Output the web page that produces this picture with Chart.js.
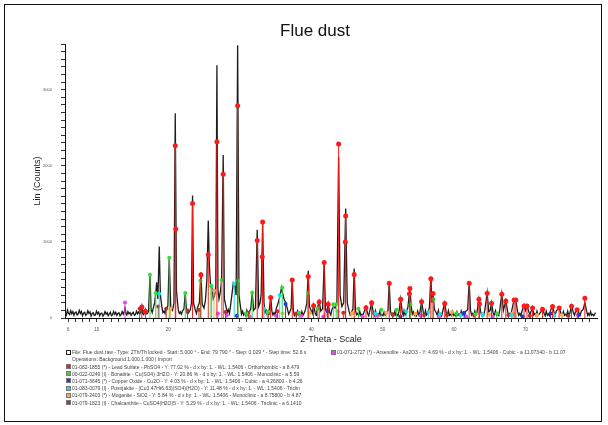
<!DOCTYPE html>
<html>
<head>
<meta charset="utf-8">
<script src="https://cdn.jsdelivr.net/npm/chart.js@4.4.1/dist/chart.umd.min.js"></script>
<style>
  body { margin: 0; background: #fff; }
  #wrap { position: relative; width: 608px; height: 425px; overflow: hidden; font-family: "Liberation Sans", Arial, sans-serif; }
  #frame { position: absolute; left: 4px; top: 4px; width: 596px; height: 416px; border: 1px solid #111; pointer-events: none; }
  #title { position: absolute; left: 0; width: 630px; top: 21px; line-height: 20px; text-align: center; font-size: 17px; color: #111; }
  .row { position: absolute; font-size: 5px; line-height: 6px; color: #444; white-space: nowrap; overflow: hidden; }
  .icon { position: absolute; width: 5px; height: 5px; box-sizing: border-box; border: 1px solid #777; }
</style>
</head>
<body>
<div id="wrap">
  <canvas id="xrd" width="608" height="425"></canvas>
  <div id="title">Flue dust</div>
  <div id="legend"></div>
  <div id="frame"></div>
</div>
<script>
// axis ranges and labels
const xMin = 5.55, xMax = 80, yMax = 3600;
const xLabels = [6, 10, 20, 30, 40, 50, 60, 70];
const yLabels = [0, 1000, 2000, 3000];

const scanLow = [
  [5.6,70],[5.75,40],[5.9,105],[6.05,60],[6.2,45],[6.35,95],[6.5,55],[6.65,85],[6.8,35],[6.95,70],
  [7.1,80],[7.25,40],[7.4,55],[7.55,100],[7.7,60],[7.85,85],[8.0,30],[8.15,65],[8.3,75],[8.45,35],
  [8.6,50],[8.75,95],[8.9,60],[9.05,80],[9.2,25],[9.35,60],[9.5,70],[9.65,35],[9.8,40],[9.95,90],
  [10.1,55],[10.25,75],[10.4,30],[10.55,60],[10.7,65],[10.85,25],[11.0,45],[11.15,85],[11.3,50],[11.45,70],
  [11.6,30],[11.75,55],[11.9,75],[12.05,30],[12.2,40],[12.35,85],[12.5,50],[12.65,75],[12.8,35],[12.95,60],
  [13.1,70],[13.25,30],[13.4,45],[13.55,85],[13.7,50],[13.82,80],[13.94,150],[14.06,60],[14.2,40],[14.35,85],
  [14.5,55],[14.65,70],[14.8,35],[14.95,60],[15.1,75],[15.25,35],[15.4,45],[15.55,90],[15.7,55],[15.85,80],
  [16.0,55],[16.15,70],[16.3,150],[16.42,60],[16.55,45],[16.68,70],[16.8,110],[16.95,55],[17.1,60],
  [17.25,95],[17.44,560],[17.6,110],[17.75,70],[17.9,130],[18.1,200],[18.25,330],[18.38,470],[18.55,250],[18.74,940],[18.9,300],
  [19.1,150],[19.25,70],[19.4,90],[19.55,60],[19.7,120],[19.95,160],[20.14,790],[20.35,130],[20.6,100],[20.8,200],[20.98,2690],[21.15,350],
  [21.4,110],[21.55,60],[21.7,80],[21.85,50],[22.0,95],[22.2,120],[22.38,330],[22.55,90],[22.7,50],[22.85,70],[23.1,110],[23.25,200],[23.4,1610],
  [23.55,190],[23.8,100],[23.95,60],[24.1,140],[24.35,200],[24.57,600],[24.75,180],[25.0,130],[25.2,230],[25.4,500],[25.6,1280],
  [25.75,700],[25.9,450],[26.1,430],[26.3,250],[26.5,300],[26.65,420],[26.81,3320],[26.95,380],[27.1,250],[27.3,350],
  [27.47,500],[27.69,2140],[27.85,250],[28.1,140],[28.25,70],[28.4,110],[28.55,60],[28.7,150],[28.9,300],[29.1,460],[29.3,420],[29.5,300],
  [29.71,3585],[29.9,300],[30.1,150]
];
const scanMid = [
  [30.25,50],[30.4,90],[30.55,40],[30.7,60],[30.85,30],[31.0,100],[31.15,45],[31.3,70],[31.55,120],[31.75,335],[31.95,100],[32.2,130],[32.45,1160],[32.65,150],
  [32.85,200],[33.0,300],[33.21,1240],[33.4,200],[33.55,70],[33.7,100],[33.85,40],[34.0,80],[34.15,110],[34.33,280],[34.5,90],[34.65,40],[34.8,70],
  [34.95,35],[35.1,120],[35.4,200],[35.65,300],[35.85,400],[36.0,330],[36.2,250],[36.45,200],[36.7,110],[36.85,50],[37.0,80],[37.2,130],
  [37.35,520],[37.5,100],[37.65,35],[37.8,60],[37.95,30],[38.1,90],[38.25,40],[38.4,50],[38.55,25],[38.7,85],[38.85,35],[39.0,60],[39.2,110],[39.4,200],[39.59,620],
  [39.75,150],[40.0,100],[40.15,60],[40.34,170],[40.55,70],[40.7,35],[40.8,100],[41.12,220],[41.35,90],[41.6,120],[41.82,740],
  [42.0,110],[42.2,80],[42.38,190],[42.6,70],[42.75,40],[42.9,110],[43.1,150],[43.35,130],[43.6,200],[43.84,2120],[44.05,300],
  [44.3,150],[44.55,200],[44.83,1440],[45.05,200],[45.3,90],[45.45,40],[45.6,70],[45.85,120],[46.02,650],[46.2,100],[46.35,45],[46.5,60],
  [46.65,30],[46.8,90],[46.95,35],[47.1,50],[47.25,30],[47.4,80],[47.67,150],[47.9,60],[48.05,30],[48.2,90],[48.46,200],[48.7,70],[48.85,35],[49.0,95],[49.15,40],[49.3,55],
  [49.45,30],[49.6,85],[49.75,35],[49.9,45]
];
const scanHigh = [
  [50.05,30],[50.2,80],[50.35,35],[50.5,55],[50.75,100],[50.92,470],[51.1,90],[51.25,40],[51.4,60],[51.55,30],[51.7,85],[51.85,35],[52.0,50],[52.15,30],[52.3,90],[52.52,250],
  [52.75,70],[52.9,35],[53.0,95],[53.15,40],[53.3,60],[53.55,150],[53.81,400],[54.0,150],[54.15,50],[54.3,80],[54.45,35],[54.6,55],[54.75,30],[54.9,90],[55.05,40],[55.2,60],
  [55.45,220],[55.7,70],[55.85,35],[56.0,100],[56.15,40],[56.3,60],[56.55,140],[56.75,540],[56.9,200],[57.05,330],[57.25,110],[57.5,70],
  [57.65,35],[57.8,100],[57.95,40],[58.1,60],[58.25,30],[58.4,85],[58.69,200],[58.9,65],[59.05,30],[59.2,95],[59.35,35],[59.5,50],[59.65,30],[59.8,85],[59.95,35],[60.1,45],[60.25,25],[60.4,80],
  [60.55,35],[60.7,55],[60.85,30],[61.0,90],[61.15,40],[61.3,60],[61.45,30],[61.6,85],[61.9,110],[62.11,470],[62.3,100],[62.45,40],[62.6,60],[62.75,30],[62.9,90],[63.05,40],[63.2,70],
  [63.47,250],[63.7,90],[63.85,35],[64.0,60],[64.15,35],[64.3,100],[64.63,330],[64.85,80],[65.05,100],[65.24,200],[65.45,70],[65.6,35],[65.8,95],
  [65.95,35],[66.1,55],[66.25,35],[66.4,110],[66.68,320],[66.9,100],[67.24,230],[67.5,80],[67.65,35],[67.8,60],[67.95,40],[68.1,110],[68.4,240],[68.64,230],
  [68.9,80],[69.05,35],[69.2,60],[69.35,30],[69.5,90],[69.79,170],[70.0,100],[70.2,165],[70.5,70],[70.6,35],[70.75,80],[70.98,140],[71.15,40],[71.3,60],
  [71.45,30],[71.6,90],[71.75,35],[71.9,50],[72.15,80],[72.38,120],[72.6,60],[72.75,30],[72.9,90],[73.05,35],[73.2,55],[73.35,30],[73.5,100],[73.78,160],[74.0,70],
  [74.15,35],[74.3,90],[74.7,140],[74.95,60],[75.1,30],[75.3,85],[75.45,35],[75.6,50],[75.75,30],[75.9,90],[76.05,35],[76.2,60],[76.44,160],[76.7,70],[76.85,35],[77.0,85],
  [77.22,120],[77.5,60],[77.65,35],[77.8,90],[78.05,110],[78.3,200],[78.55,90],[78.7,35],[78.8,60],[78.95,35],[79.1,85],[79.25,35],[79.4,50],[79.55,30],[79.79,70]
];

// reference sticks per phase, [2-theta, counts]
const leadSulfate = [
  [16.3,145],[16.8,90],[20.98,2263],[21.05,1170],[23.4,1505],[24.57,568],[25.6,830],[26.81,2316],[27.69,1890],
  [29.71,2790],[32.45,1017],[33.15,806],[33.21,1260],[34.33,270],[37.35,500],[39.59,545],[40.34,160],[41.12,210],
  [41.82,730],[42.38,180],[43.84,2285],[44.78,1000],[44.83,1340],[46.02,570],[47.67,135],[48.46,200],[50.92,458],
  [52.52,246],[53.75,320],[53.81,387],[55.45,215],[56.75,515],[57.05,321],[58.69,190],[62.11,458],[63.47,246],
  [63.55,183],[64.63,326],[65.24,194],[66.68,313],[67.24,225],[68.4,238],[68.64,238],[69.79,158],[70.2,158],
  [70.98,130],[72.38,115],[73.78,150],[74.7,130],[76.44,155],[77.22,110],[78.3,260]
];
const bonattite = [
  [17.44,568],[18.25,330],[20.14,790],[22.38,330],[24.5,490],[25.97,420],[27.47,500],[29.78,490],[30.9,60],
  [31.75,335],[33.9,80],[35.95,400],[38.3,70],[39.55,330],[40.9,120],[43.1,180],[43.5,180],[46.6,120],[49.8,110],
  [51.95,110],[53.9,180],[57.1,250],[60.3,60],[63.0,50],[66.0,60]
];
const copperOxide = [
  [29.6,30],[36.42,185],[42.3,90],[52.5,20],[61.4,70],[69.6,20],[73.5,60],[77.4,40]
];
const posnjakite = [
  [18.74,320],[26.07,420],[29.23,450],[33.4,120],[35.6,300],[43.7,90],[49.0,60],[53.3,90],[56.4,80],
  [58.0,50],[60.9,40],[64.0,50],[68.0,40],[74.0,40]
];
const moganite = [
  [20.3,120],[26.4,360],[36.0,60],[39.8,70],[42.0,50],[45.7,60],[50.5,70],[54.6,60],[59.7,80],[64.9,50],
  [68.2,60],[71.6,40],[75.1,40]
];
const chalcanthite = [
  [16.0,120],[18.6,150],[19.7,120],[22.7,100],[24.3,110],[28.0,80],[31.2,70],[34.0,60],[35.3,90],[37.9,60],
  [44.5,70],[48.8,60],[51.4,50],[55.8,40],[59.0,40],[62.8,40],[67.6,40],[70.6,30],[76.0,30]
];
const arsenolite = [
  [13.94,203],[26.95,60],[28.2,40],[31.4,20],[35.1,30],[38.6,30],[41.7,20],[47.2,20],[49.3,30],[55.3,30],
  [57.9,20],[61.7,20],[65.4,20]
];

const fileLine = 'File: Flue dust.raw - Type: 2Th/Th locked - Start: 5.000 ° - End: 79.790 ° - Step: 0.029 ° - Step time: 52.6 s';
const opsLine = 'Operations: Background 1.000,1.000 | Import';
const phaseLabels = [
  '01-082-1855 (*) - Lead Sulfate - PbSO4 - Y: 77.02 % - d x by: 1. - WL: 1.5406 - Orthorhombic - a 8.479',
  '00-022-0249 (I) - Bonattite - Cu(SO4)·3H2O - Y: 20.86 % - d x by: 1. - WL: 1.5406 - Monoclinic - a 5.59',
  '01-071-3645 (*) - Copper Oxide - Cu2O - Y: 4.03 % - d x by: 1. - WL: 1.5406 - Cubic - a 4.26800 - b 4.26',
  '01-083-0079 (I) - Posnjakite - (Cu3.47Ht6.63)(SO4)(H2O) - Y: 11.48 % - d x by: 1. - WL: 1.5406 - Triclin',
  '01-079-2403 (*) - Moganite - SiO2 - Y: 5.84 % - d x by: 1. - WL: 1.5406 - Monoclinic - a 8.75800 - b 4.87',
  '01-079-1823 (I) - Chalcanthite - CuSO4(H2O)5 - Y: 5.29 % - d x by: 1. - WL: 1.5406 - Triclinic - a 6.1410'
];
const arsenoliteLabel = '01-071-2727 (*) - Arsenolite - As2O3 - Y: 4.69 % - d x by: 1. - WL: 1.5406 - Cubic - a 11.07340 - b 11.07';

const phaseColors = ['#ff1a1a', '#33dd33', '#2233ee', '#22dddd', '#ffaa44', '#b83030'];
const arsenoliteColor = '#ee44ee';

// turn a stick list into line segments from zero up to the marker
function sticks(list) {
  const out = [];
  list.forEach(([a, h]) => {
    out.push({x: a, y: 0}, {x: a, y: h}, {x: a, y: null});
  });
  return out;
}

function stickSet(list, color, radius, order) {
  return {
    data: sticks(list),
    borderColor: color,
    borderWidth: 1,
    pointBackgroundColor: color,
    pointBorderColor: color,
    pointBorderWidth: 0,
    pointRadius: ctx => (ctx.raw && ctx.raw.y > 0) ? radius : 0,
    spanGaps: false,
    order: order
  };
}

const scan = scanLow.concat(scanMid, scanHigh).map(([a, c]) => ({x: a, y: c}));

const xTickVals = [];
for (let v = 6; v < 80; v++) xTickVals.push(v);

new Chart(document.getElementById('xrd'), {
  type: 'line',
  data: {
    datasets: [
      stickSet(leadSulfate, phaseColors[0], 2.5, 0),
      stickSet(bonattite, phaseColors[1], 2, 1),
      stickSet(copperOxide, phaseColors[2], 2, 2),
      stickSet(posnjakite, phaseColors[3], 2, 3),
      stickSet(moganite, phaseColors[4], 2, 4),
      stickSet(chalcanthite, phaseColors[5], 2, 5),
      stickSet(arsenolite, arsenoliteColor, 2, 6),
      {
        data: scan,
        borderColor: '#1c1c1c',
        borderWidth: 1.3,
        pointRadius: 0,
        tension: 0,
        order: 10
      }
    ]
  },
  options: {
    responsive: false,
    animation: false,
    layout: { padding: { left: 0, right: 11, top: 44, bottom: 80 } },
    plugins: { legend: { display: false }, tooltip: { enabled: false } },
    scales: {
      x: {
        type: 'linear',
        min: xMin,
        max: xMax,
        afterBuildTicks: s => { s.ticks = xTickVals.map(v => ({value: v})); },
        afterFit: s => { s.height = 27; },
        ticks: {
          autoSkip: false,
          maxRotation: 0,
          padding: 5,
          color: '#555',
          font: { size: 4.5, family: 'Liberation Sans' },
          callback: v => xLabels.includes(v) ? String(v) : ''
        },
        grid: { drawOnChartArea: false, tickLength: 4, tickColor: '#333' },
        border: { color: '#111', width: 1 },
        title: {
          display: true,
          text: '2-Theta - Scale',
          color: '#222',
          padding: { top: 0, bottom: 0 },
          font: { size: 9, family: 'Liberation Sans' }
        }
      },
      y: {
        min: 0,
        max: yMax,
        afterFit: s => { s.width = 65; },
        ticks: {
          stepSize: 100,
          autoSkip: false,
          padding: 9,
          color: '#555',
          font: { size: 4, family: 'Liberation Sans' },
          callback: v => yLabels.includes(v) ? String(v) : ''
        },
        grid: { drawOnChartArea: false, tickLength: 4, tickColor: '#333' },
        border: { color: '#111', width: 1 },
        title: {
          display: true,
          text: 'Lin (Counts)',
          color: '#222',
          padding: { top: 32, bottom: 0 },
          font: { size: 9, family: 'Liberation Sans' }
        }
      }
    }
  }
});

// legend block under the axis
const legend = document.getElementById('legend');
function addRow(x, y, text, color, width) {
  const icon = document.createElement('div');
  icon.className = 'icon';
  icon.style.left = x + 'px';
  icon.style.top = (y - 2.5) + 'px';
  icon.style.background = color || '#fff';
  if (!color) icon.style.borderColor = '#222';
  legend.appendChild(icon);
  const row = document.createElement('div');
  row.className = 'row';
  row.style.left = (x + 6) + 'px';
  row.style.top = (y - 3) + 'px';
  row.style.width = width + 'px';
  row.textContent = text;
  legend.appendChild(row);
}
addRow(66, 352, fileLine, null, 250);
const ops = document.createElement('div');
ops.className = 'row';
ops.style.left = '72px';
ops.style.top = '356px';
ops.textContent = opsLine;
legend.appendChild(ops);
addRow(331, 352, arsenoliteLabel, arsenoliteColor, 255);
phaseLabels.forEach((t, i) => addRow(66, 366.5 + i * 7.2, t, phaseColors[i], 250));
</script>
</body>
</html>
